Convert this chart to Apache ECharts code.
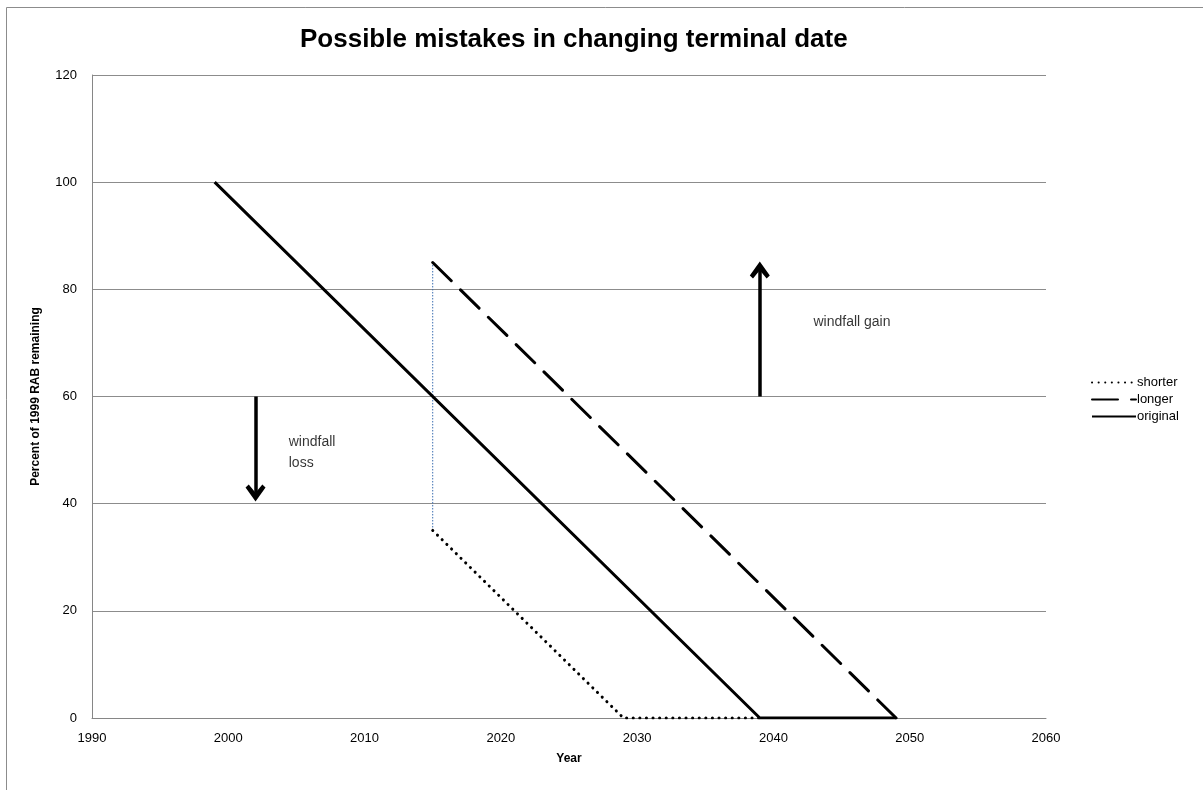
<!DOCTYPE html>
<html>
<head>
<meta charset="utf-8">
<script src="https://cdn.jsdelivr.net/npm/echarts@6/dist/echarts.min.js"></script>
<style>
html,body{margin:0;padding:0;background:#fff;}
#main{width:1203px;height:790px;}
</style>
</head>
<body>
<div id="main"></div>
<script>
var titleText = 'Possible mistakes in changing terminal date';
var xAxisName = 'Year';
var yAxisName = 'Percent of 1999 RAB remaining';
var seriesNames = ['shorter', 'longer', 'original'];
var shorterData = [[2015, 35], [2029, 0], [2039, 0]];
var longerData = [[2015, 85], [2049, 0]];
var originalData = [[1999, 100], [2039, 0], [2049, 0]];
var connectorData = [[2015, 35], [2015, 85]];
var lossArrow = [[2002, 60], [2002, 42]];
var gainArrow = [[2039, 60], [2039, 83.6]];
var annotations = [
  { text: 'windfall\nloss', coord: [2004.4, 49.5] },
  { text: 'windfall gain', coord: [2042.9, 73.9] }
];
var xMin = 1990, xMax = 2060, xStep = 10;
var yMin = 0, yMax = 120, yStep = 20;

var font = 'Liberation Sans, Arial, sans-serif';
var arrowPath = 'path://M5,0 L10,7 L8.4,8.5 L5,4.4 L1.6,8.5 L0,7 Z';

var chart = echarts.init(document.getElementById('main'));
chart.setOption({
  animation: false,
  backgroundColor: '#fff',
  textStyle: { fontFamily: font },
  graphic: [{
    type: 'rect', z: -10, silent: true,
    shape: { x: 6.5, y: 7.5, width: 1400, height: 1000 },
    style: { fill: 'none', stroke: '#8c8c8c', lineWidth: 1 }
  }],
  title: {
    text: titleText, left: 295, top: 22,
    textStyle: { fontFamily: font, fontSize: 26, fontWeight: 'bold', color: '#000' }
  },
  legend: {
    orient: 'vertical', left: 1086, top: 371, itemGap: 4,
    itemWidth: 44, itemHeight: 10,
    itemStyle: { opacity: 0 },
    textStyle: { fontFamily: font, fontSize: 13, color: '#000', padding: [0, 0, 0, -4] },
    data: seriesNames
  },
  grid: { left: 92, right: 157, top: 75, bottom: 72, containLabel: false },
  xAxis: {
    type: 'value', min: xMin, max: xMax, interval: xStep,
    name: xAxisName, nameLocation: 'middle', nameGap: 35,
    nameTextStyle: { fontFamily: font, fontSize: 12, fontWeight: 'bold', color: '#000' },
    axisLine: { show: true, lineStyle: { color: '#868686', width: 1 } },
    axisTick: { show: false },
    splitLine: { show: false },
    axisLabel: { fontFamily: font, fontSize: 13, color: '#000', margin: 14,
      formatter: function (v) { return String(v); } }
  },
  yAxis: {
    type: 'value', min: yMin, max: yMax, interval: yStep,
    name: yAxisName, nameLocation: 'middle', nameGap: 50,
    nameTextStyle: { fontFamily: font, fontSize: 12, fontWeight: 'bold', color: '#000' },
    axisLine: { show: true, lineStyle: { color: '#868686', width: 1 } },
    axisTick: { show: false },
    splitLine: { show: true, lineStyle: { color: '#8c8c8c', width: 1 } },
    axisLabel: { fontFamily: font, fontSize: 13, color: '#000', margin: 15 }
  },
  series: [
    {
      name: 'shorter', type: 'line', data: shorterData, symbol: 'none', z: 3,
      lineStyle: { color: '#000', width: 3, type: [0.1, 6.5], cap: 'round' },
      itemStyle: { color: '#000' }
    },
    {
      name: 'longer', type: 'line', data: longerData, symbol: 'none', z: 3,
      lineStyle: { color: '#000', width: 3, type: [26, 13], cap: 'round' },
      itemStyle: { color: '#000' }
    },
    {
      name: 'original', type: 'line', data: originalData, symbol: 'none', z: 4,
      lineStyle: { color: '#000', width: 3 },
      itemStyle: { color: '#000' }
    },
    {
      name: 'connector', type: 'line', data: connectorData, symbol: 'none', z: 2,
      lineStyle: { color: '#3a6db0', width: 1, type: [1.5, 1.5] }
    },
    {
      name: 'arrows', type: 'line', data: [], symbol: 'none',
      markLine: {
        silent: true, symbol: ['none', arrowPath], symbolSize: [20, 17],
        label: { show: false },
        lineStyle: { color: '#000', width: 3.5, type: 'solid' },
        itemStyle: { color: '#000' },
        data: [
          [{ coord: lossArrow[0] }, { coord: lossArrow[1] }],
          [{ coord: gainArrow[0] }, { coord: gainArrow[1] }]
        ]
      }
    },
    {
      name: 'notes', type: 'scatter', symbolSize: 1, itemStyle: { color: 'rgba(0,0,0,0)' },
      data: annotations.map(function (a) { return { value: a.coord, name: a.text }; }),
      label: {
        show: true, position: 'right', distance: 0, align: 'left',
        formatter: function (p) { return p.name; },
        fontFamily: font, fontSize: 14, color: '#000', lineHeight: 21
      }
    }
  ]
});
</script>
</body>
</html>
